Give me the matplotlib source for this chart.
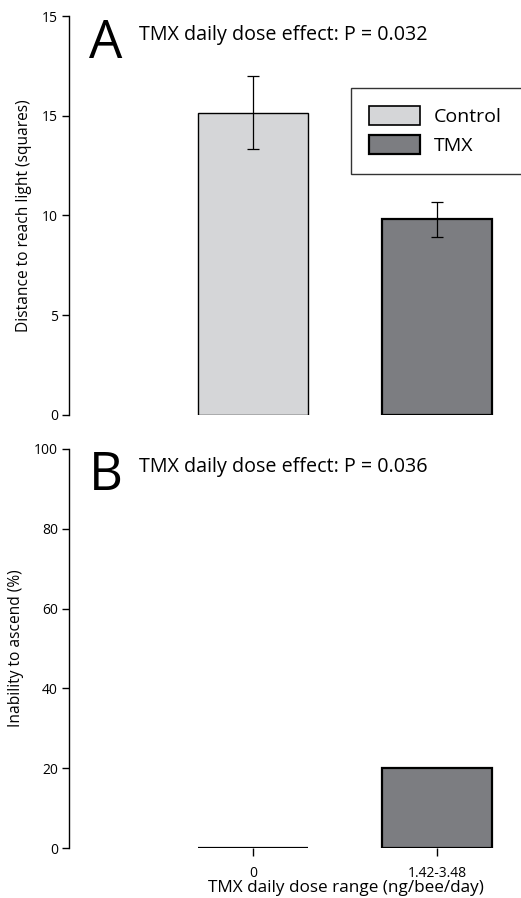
import matplotlib.pyplot as plt
from matplotlib.patches import Patch

plt.rcParams['font.family'] = ['Open Sans', 'DejaVu Sans']

groups = ['Control', 'TMX']
dose_labels = ['0', '1.42-3.48']
distance_mean = [15.15, 9.8]
distance_err = [1.83, 0.88]
ascend_pct = [0.0, 20.0]
colors = ['#d5d6d8', '#7c7d81']
p_a = 0.032
p_b = 0.036

xpos = [1, 2]

fig = plt.figure(figsize=(5.21, 8.98), dpi=100)
axA = fig.add_axes([69 / 521, 1 - 415 / 898, 1 - 69 / 521, 399 / 898])
axB = fig.add_axes([69 / 521, 1 - 848 / 898, 1 - 69 / 521, 399 / 898])

for ax in (axA, axB):
    for s in ['top', 'right', 'bottom']:
        ax.spines[s].set_visible(False)
    ax.spines['left'].set_linewidth(1.0)
    ax.set_xlim(0, 452 / 184)
    ax.tick_params(axis='y', length=5, width=1.0, labelsize=10, pad=3)

# panel A
axA.bar(xpos, distance_mean, width=0.6, color=colors,
        edgecolor='black', linewidth=[1.0, 1.6])
axA.errorbar(xpos, distance_mean, yerr=distance_err, fmt='none',
             ecolor='black', elinewidth=0.9, capsize=4.5, capthick=0.9)
axA.set_ylim(0, 20)
axA.set_yticks([0, 5, 10, 15, 20])
axA.set_yticklabels(['0', '5', '10', '15', '15'])
axA.set_xticks([])
axA.set_ylabel('Distance to reach light (squares)', fontsize=11.2, labelpad=7)
axA.text(0.045, 0.995, 'A', transform=axA.transAxes, fontsize=38,
         va='top', ha='left')
axA.text(0.155, 0.952, 'TMX daily dose effect: P = %.3f' % p_a,
         transform=axA.transAxes, fontsize=14.2, va='center', ha='left')
handles = [Patch(facecolor=colors[0], edgecolor='black', linewidth=1.2),
           Patch(facecolor=colors[1], edgecolor='black', linewidth=1.6)]
leg = axA.legend(handles, groups, loc='upper left',
                 bbox_to_anchor=(282 / 452, 1 - 157 / 399, 172 / 452, 85 / 399),
                 mode='expand', fontsize=14, frameon=True, fancybox=False,
                 handlelength=2.6, handleheight=1.1, borderpad=0.95,
                 labelspacing=0.45, handletextpad=0.7, borderaxespad=0)
leg.get_frame().set_edgecolor('black')
leg.get_frame().set_linewidth(1.0)

# panel B
axB.bar(xpos, ascend_pct, width=0.6, color=colors[1],
        edgecolor='black', linewidth=1.6)
axB.set_ylim(0, 100)
axB.set_yticks([0, 20, 40, 60, 80, 100])
axB.set_xticks(xpos)
axB.set_xticklabels(dose_labels)
axB.tick_params(axis='x', length=6, width=1.0, labelsize=10, pad=7)
axB.set_ylabel('Inability to ascend (%)', fontsize=11.2, labelpad=7)
axB.set_xlabel('TMX daily dose range (ng/bee/day)', fontsize=12.3,
               labelpad=-1, x=(346 - 69) / 452)
axB.text(0.045, 1.0, 'B', transform=axB.transAxes, fontsize=38,
         va='top', ha='left')
axB.text(0.155, 0.955, 'TMX daily dose effect: P = %.3f' % p_b,
         transform=axB.transAxes, fontsize=14.2, va='center', ha='left')

fig.savefig('out.png', dpi=100)
